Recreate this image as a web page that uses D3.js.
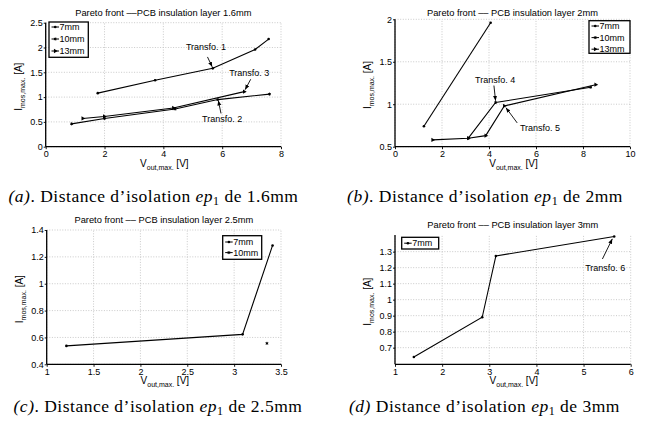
<!DOCTYPE html>
<html><head><meta charset="utf-8">
<script src="https://cdn.jsdelivr.net/npm/d3@7"></script>
<style>body{margin:0;background:#fff}svg{display:block}</style>
</head><body>
<svg id="chart" width="648" height="425"></svg>
<script>
// ---------------- DATA ----------------
const seriesNames = ["7mm", "10mm", "13mm"];
const panelTitles = [
  "Pareto front \u2013\u2013PCB insulation layer 1.6mm",
  "Pareto front \u2013\u2013 PCB insulation layer 2mm",
  "Pareto front \u2013\u2013 PCB insulation layer 2.5mm",
  "Pareto front \u2013\u2013 PCB insulation layer 3mm"
];
const captionLetters = ["(a)", "(b)", "(c)", "(d)"];
const captionPoints = [".", ".", ".", ""];
const captionThickness = ["1.6mm", "2mm", "2.5mm", "3mm"];

// panel (a)
const a7x = [1.77, 3.72, 5.68, 7.12, 7.58],  a7y = [1.08, 1.34, 1.58, 1.96, 2.17];
const a10x = [0.88, 2.0, 4.4, 5.85, 7.61],   a10y = [0.46, 0.57, 0.76, 0.95, 1.06];
const a13x = [1.26, 1.99, 4.34, 6.75],       a13y = [0.57, 0.61, 0.78, 1.11];
// panel (b)
const b7x = [1.23, 4.07],                    b7y = [0.74, 1.96];
const b10x = [3.12, 4.28, 8.33],             b10y = [0.60, 1.02, 1.20];
const b13x = [1.6, 3.12, 3.86, 4.65, 8.54],  b13y = [0.58, 0.60, 0.63, 0.98, 1.23];
// panel (c)
const c7x = [1.21, 3.09, 3.41],              c7y = [0.537, 0.623, 1.285];
const c10x = [3.35],                         c10y = [0.556];
// panel (d)
const d7x = [1.40, 2.85, 3.14, 5.65],        d7y = [0.642, 0.89, 1.273, 1.395];

// axis domains and ticks
const aXDomain = [0, 8],   aYDomain = [0, 2.5];
const bXDomain = [0, 10],  bYDomain = [0.5, 2];
const cXDomain = [1, 3.5], cYDomain = [0.4, 1.4];
const dXDomain = [1, 6],   dYDomain = [0.596, 1.404];
const aXTicks = [0, 2, 4, 6, 8],            aYTicks = [0, 0.5, 1, 1.5, 2, 2.5];
const bXTicks = [0, 2, 4, 6, 8, 10],        bYTicks = [0.5, 1, 1.5, 2];
const cXTicks = [1, 1.5, 2, 2.5, 3, 3.5],   cYTicks = [0.4, 0.6, 0.8, 1, 1.2, 1.4];
const dXTicks = [1, 2, 3, 4, 5, 6],         dYTicks = [0.7, 0.8, 0.9, 1, 1.1, 1.2, 1.3];

// annotation labels
const aNotes = ["Transfo. 1", "Transfo. 3", "Transfo. 2"];
const bNotes = ["Transfo. 4", "Transfo. 5"];
const dNotes = ["Transfo. 6"];

// ---------------- LAYOUT ----------------
const zip = (xs, ys) => xs.map((v, i) => [v, ys[i]]);
const markerTypes = ["dot", "star", "tri"];

const panels = [
  { xd: aXDomain, yd: aYDomain, xt: aXTicks, yt: aYTicks,
    left: 45.7, right: 281, top: 22.7, bottom: 146.7, titleY: 15.5,
    series: [zip(a7x, a7y), zip(a10x, a10y), zip(a13x, a13y)],
    legend: { x: 49, y: 22, w: 39.3, h: 35.3, row0: 27, step: 12 },
    notes: aNotes,
    noteGeom: [[5.45, 2.01, 5.5, 1.81, 5.66, 1.61], [6.92, 1.49, 6.97, 1.36, 6.78, 1.15], [6.0, 0.56, 5.96, 0.67, 5.87, 0.93]] },
  { xd: bXDomain, yd: bYDomain, xt: bXTicks, yt: bYTicks,
    left: 395, right: 630, top: 19.3, bottom: 146.7, titleY: 15.5,
    series: [zip(b7x, b7y), zip(b10x, b10y), zip(b13x, b13y)],
    legend: { x: 589, y: 20.7, w: 41, h: 32.6, row0: 26, step: 11.6 },
    notes: bNotes,
    noteGeom: [[4.26, 1.29, 4.21, 1.22, 4.28, 1.04], [6.17, 0.724, 5.2, 0.78, 4.72, 0.96]] },
  { xd: cXDomain, yd: cYDomain, xt: cXTicks, yt: cYTicks,
    left: 46.7, right: 281, top: 230, bottom: 364.3, titleY: 222.5,
    series: [zip(c7x, c7y), zip(c10x, c10y)],
    legend: { x: 222.7, y: 235.7, w: 39, h: 23.6, row0: 242, step: 10.6 },
    notes: [], noteGeom: [] },
  { xd: dXDomain, yd: dYDomain, xt: dXTicks, yt: dYTicks,
    left: 395, right: 630.7, top: 235, bottom: 364.3, titleY: 228,
    series: [zip(d7x, d7y)],
    legend: { x: 401.7, y: 237.3, w: 37, h: 11.7, row0: 243.2, step: 11 },
    notes: dNotes,
    noteGeom: [[5.46, 1.196, 5.40, 1.254, 5.61, 1.38]] }
];
const captionPos = [[153.5, 201.5], [485, 201.5], [158, 411.5], [484.5, 411.5]];

const FONT = "'Liberation Sans', Arial, Helvetica, sans-serif";
const SERIF = "'Liberation Serif', 'Times New Roman', serif";

const svg = d3.select("#chart");
svg.append("rect").attr("width", 648).attr("height", 425).attr("fill", "#fff");
const defs = svg.append("defs");
defs.append("marker").attr("id", "arrow").attr("viewBox", "0 0 10 10")
  .attr("refX", 10).attr("refY", 5).attr("markerWidth", 5).attr("markerHeight", 5)
  .attr("markerUnits", "userSpaceOnUse").attr("orient", "auto")
  .append("path").attr("d", "M0,1 L10,5 L0,9 Z").attr("fill", "#000");

function drawMarker(g, type, cx, cy) {
  if (type === "dot") {
    g.append("circle").attr("cx", cx).attr("cy", cy).attr("r", 1.3).attr("fill", "#000");
  } else if (type === "star") {
    g.append("path").attr("d", d3.symbol(d3.symbolAsterisk, 6)())
      .attr("transform", `translate(${cx},${cy})`).attr("stroke", "#000").attr("stroke-width", 1).attr("fill", "none");
  } else {
    g.append("path").attr("d", d3.symbol(d3.symbolTriangle, 8)())
      .attr("transform", `translate(${cx},${cy}) rotate(90)`).attr("fill", "#000");
  }
}

const fmt = d => String(+d.toFixed(2));

panels.forEach((p, pi) => {
  const g = svg.append("g");
  const x = d3.scaleLinear().domain(p.xd).range([p.left, p.right]);
  const y = d3.scaleLinear().domain(p.yd).range([p.bottom, p.top]);

  // grid
  g.append("g").selectAll("line").data(p.xt).join("line")
    .attr("x1", d => x(d)).attr("x2", d => x(d)).attr("y1", p.bottom).attr("y2", p.top)
    .attr("stroke", "#bdbdbd").attr("stroke-width", 0.8).attr("stroke-dasharray", "1,1.6");
  g.append("g").selectAll("line").data(p.yt).join("line")
    .attr("y1", d => y(d)).attr("y2", d => y(d)).attr("x1", p.left).attr("x2", p.right)
    .attr("stroke", "#bdbdbd").attr("stroke-width", 0.8).attr("stroke-dasharray", "1,1.6");

  // axes
  const xa = g.append("g").attr("transform", `translate(0,${p.bottom})`)
    .call(d3.axisBottom(x).tickValues(p.xt).tickFormat(fmt).tickSize(2.5).tickPadding(1.5).tickSizeOuter(0));
  const ya = g.append("g").attr("transform", `translate(${p.left},0)`)
    .call(d3.axisLeft(y).tickValues(p.yt).tickFormat(fmt).tickSize(2).tickPadding(1).tickSizeOuter(0));
  [xa, ya].forEach(a => {
    a.select(".domain").attr("stroke", "#000").attr("stroke-width", 1.3);
    a.selectAll(".tick line").attr("stroke", "#000").attr("stroke-width", 0.9);
    a.selectAll("text").attr("font-family", FONT).attr("font-size", 9).attr("fill", "#000");
  });
  xa.select(".domain").attr("d", `M${p.left},0H${p.right}`);
  ya.select(".domain").attr("d", `M0,${p.bottom}V${p.top}`);

  // series lines and markers
  const line = d3.line().x(d => x(d[0])).y(d => y(d[1]));
  p.series.forEach((s, si) => {
    if (s.length > 1) {
      g.append("path").datum(s).attr("d", line).attr("fill", "none")
        .attr("stroke", "#000").attr("stroke-width", 1.1);
    }
    s.forEach(d => drawMarker(g, markerTypes[si], x(d[0]), y(d[1])));
  });

  // annotations
  p.notes.forEach((t, ni) => {
    const [tx, ty, ax, ay, hx, hy] = p.noteGeom[ni];
    g.append("line").attr("x1", x(ax)).attr("y1", y(ay)).attr("x2", x(hx)).attr("y2", y(hy))
      .attr("stroke", "#000").attr("stroke-width", 0.9).attr("marker-end", "url(#arrow)");
    g.append("text").attr("x", x(tx)).attr("y", y(ty)).attr("dy", "0.35em")
      .attr("text-anchor", "middle").attr("font-family", FONT).attr("font-size", 9).text(t);
  });

  // legend
  const L = p.legend;
  g.append("rect").attr("x", L.x).attr("y", L.y).attr("width", L.w).attr("height", L.h)
    .attr("fill", "#fff").attr("stroke", "#000").attr("stroke-width", 1.3);
  p.series.forEach((s, si) => {
    const ry = L.row0 + si * L.step;
    g.append("line").attr("x1", L.x + 2.5).attr("x2", L.x + 10).attr("y1", ry).attr("y2", ry)
      .attr("stroke", "#000").attr("stroke-width", 1);
    drawMarker(g, markerTypes[si], L.x + 6.2, ry);
    g.append("text").attr("x", L.x + 10.5).attr("y", ry).attr("dy", "0.35em")
      .attr("font-family", FONT).attr("font-size", 9).text(seriesNames[si]);
  });

  // title
  g.append("text").attr("x", (p.left + p.right) / 2).attr("y", p.titleY)
    .attr("text-anchor", "middle").attr("font-family", FONT).attr("font-size", 9.3).text(panelTitles[pi]);

  // x label
  const xl = g.append("text").attr("x", (p.left + p.right) / 2 + 1).attr("y", p.bottom + 20)
    .attr("text-anchor", "middle").attr("font-family", FONT).attr("font-size", 10);
  xl.append("tspan").text("V");
  xl.append("tspan").attr("font-size", 7).attr("dy", 3).text("out,max.");
  xl.append("tspan").attr("dy", -3).text(" [V]");

  // y label
  const yl = g.append("text")
    .attr("transform", `translate(${p.left - 24},${(p.top + p.bottom) / 2 + 2}) rotate(-90)`)
    .attr("text-anchor", "middle").attr("font-family", FONT).attr("font-size", 10);
  yl.append("tspan").text("I");
  yl.append("tspan").attr("font-size", 7).attr("dy", 3).text("mos,max.");
  yl.append("tspan").attr("dy", -3).text(" [A]");

  // caption
  const [cx, cy] = captionPos[pi];
  const cap = svg.append("text").attr("x", cx).attr("y", cy).attr("text-anchor", "middle")
    .attr("font-family", SERIF).attr("font-size", 17.5).attr("letter-spacing", 0.5).attr("fill", "#000");
  cap.append("tspan").attr("font-style", "italic").text(captionLetters[pi]);
  cap.append("tspan").text(captionPoints[pi] + " Distance d\u2019isolation ");
  cap.append("tspan").attr("font-style", "italic").text("ep");
  cap.append("tspan").attr("font-size", 12).attr("dy", 3).text("1");
  cap.append("tspan").attr("dy", -3).text(" de " + captionThickness[pi]);
});
</script>
</body></html>
